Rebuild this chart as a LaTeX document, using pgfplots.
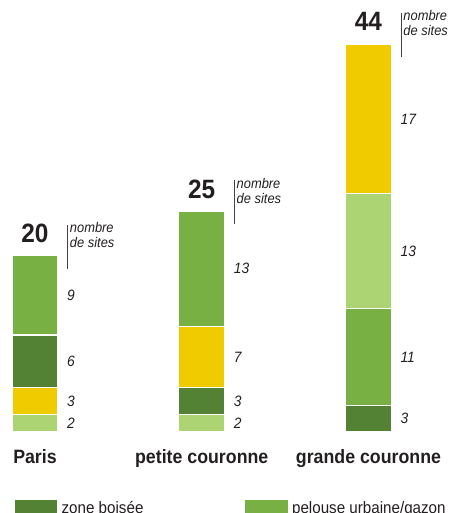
\documentclass[border=0pt]{standalone}
\usepackage{fontspec}
\setmainfont{Liberation Sans}[FakeStretch=0.92]
\usepackage{pgfplots}
\pgfplotsset{compat=1.18}

\definecolor{vertfonce}{HTML}{548235}
\definecolor{vert}{HTML}{78B043}
\definecolor{vertclair}{HTML}{ACD473}
\definecolor{jaune}{HTML}{F0CB00}
\definecolor{encre}{HTML}{231F20}

\pgfplotsset{cadre/.style={
    at={(1.65bp,81bp)}, anchor=south west,
    scale only axis, width=450.2bp, height=441bp,
    xmin=-0.2, xmax=2.5, ymin=0, ymax=50, clip=false}}

\begin{document}
\begin{tikzpicture}
\begin{axis}[
    cadre,
    ybar stacked, bar width=46bp,
    axis line style={draw=none}, tick style={draw=none},
    ytick=\empty, xtick={0,1,2},
    xticklabels={Paris, petite couronne, grande couronne},
    xticklabel style={font=\fontsize{19.3bp}{20bp}\selectfont\bfseries, text=encre, anchor=base, yshift=-31bp},
    every axis plot/.append style={draw=white, line width=1.2bp},
    visualization depends on={rawy \as \rawy},
    nodes near coords={\ifdim\rawy pt>0pt \pgfmathprintnumber[assume math mode=true]{\rawy}\fi},
    every node near coord/.append style={anchor=west, inner sep=0pt, xshift=31.5bp,
        font=\fontsize{15bp}{16bp}\selectfont\itshape, text=encre},
    legend columns=2,
    legend cell align=left,
    legend style={at={(axis description cs:0.0297,-0.152)}, anchor=north west,
        draw=none, fill=none, inner sep=0pt, outer sep=0pt,
        font=\fontsize{16.5bp}{17bp}\selectfont, text=encre,
        /tikz/every even column/.append style={column sep=100bp}},
]
\addlegendimage{legend image code/.code={\fill[vertfonce] (0bp,-14bp) rectangle (41bp,7.5bp); \path[draw=none] (0,0) -- (44bp,0);}}
\addlegendentry{zone boisée}
\addlegendimage{legend image code/.code={\fill[vert] (0bp,-14bp) rectangle (41bp,7.5bp); \path[draw=none] (0,0) -- (44bp,0);}}
\addlegendentry{pelouse urbaine/gazon}

% Paris
\addplot[fill=vertclair] coordinates {(0,2) (1,0) (2,0)};
\addplot[fill=jaune]     coordinates {(0,3) (1,0) (2,0)};
\addplot[fill=vertfonce] coordinates {(0,6) (1,0) (2,0)};
\addplot[fill=vert]      coordinates {(0,9) (1,0) (2,0)};
% petite couronne
\addplot[fill=vertclair] coordinates {(0,0) (1,2) (2,0)};
\addplot[fill=vertfonce] coordinates {(0,0) (1,3) (2,0)};
\addplot[fill=jaune]     coordinates {(0,0) (1,7) (2,0)};
\addplot[fill=vert]      coordinates {(0,0) (1,13) (2,0)};
% grande couronne
\addplot[fill=vertfonce] coordinates {(0,0) (1,0) (2,3)};
\addplot[fill=vert]      coordinates {(0,0) (1,0) (2,11)};
\addplot[fill=vertclair] coordinates {(0,0) (1,0) (2,13)};
\addplot[fill=jaune]     coordinates {(0,0) (1,0) (2,17)};
\end{axis}

% totaux (nombre de sites)
\begin{axis}[cadre, hide axis]
\addplot[draw=none, point meta=explicit symbolic,
    nodes near coords={\pgfplotspointmeta},
    every node near coord/.append style={anchor=base, inner sep=0pt, yshift=13bp,
        font=\fontsize{26.5bp}{27bp}\selectfont\bfseries, text=encre}]
    coordinates {(0,20) [20] (1,25) [25] (2,44) [44]};
\addplot[draw=none, point meta=explicit symbolic,
    nodes near coords={\textcolor{encre!85}{\rule{0.8bp}{44bp}}\hspace{2bp}\raisebox{36bp}{\parbox[t]{60bp}{\fontsize{14bp}{15bp}\selectfont\itshape nombre\\de sites}}},
    every node near coord/.append style={anchor=base west, inner sep=0pt, xshift=32bp, yshift=-13bp, text=encre}]
    coordinates {(0,20) [] (1,25) [] (2,44) []};
\end{axis}
\pgfresetboundingbox
\path (0,0) rectangle (453bp,513bp);
\end{tikzpicture}
\end{document}
